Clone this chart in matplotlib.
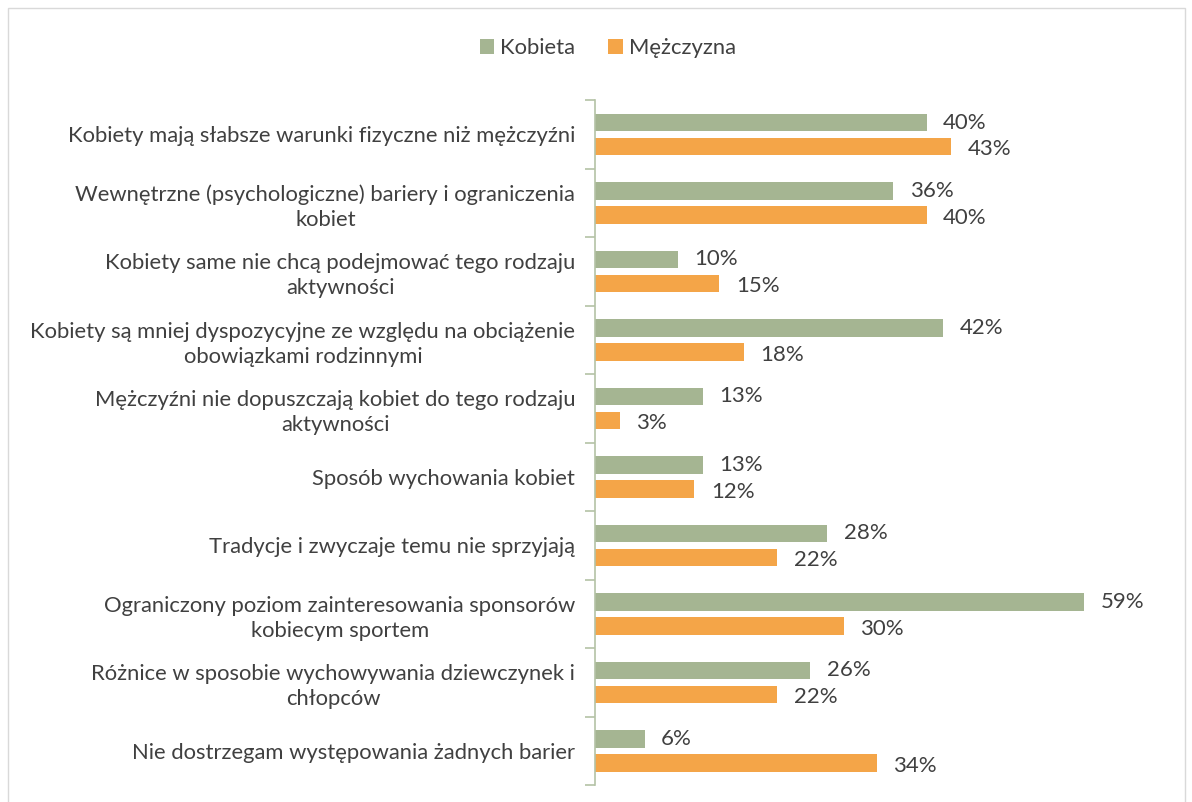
import numpy as np
import matplotlib.pyplot as plt
from matplotlib.patches import Rectangle

categories = [
    "Kobiety mają słabsze warunki fizyczne niż mężczyźni",
    "Wewnętrzne (psychologiczne) bariery i ograniczenia\nkobiet",
    "Kobiety same nie chcą podejmować tego rodzaju\naktywności",
    "Kobiety są mniej dyspozycyjne ze względu na obciążenie\nobowiązkami rodzinnymi",
    "Mężczyźni nie dopuszczają kobiet do tego rodzaju\naktywności",
    "Sposób wychowania kobiet",
    "Tradycje i zwyczaje temu nie sprzyjają",
    "Ograniczony poziom zainteresowania sponsorów\nkobiecym sportem",
    "Różnice w sposobie wychowywania dziewczynek i\nchłopców",
    "Nie dostrzegam występowania żadnych barier",
]
kobieta = [40, 36, 10, 42, 13, 13, 28, 59, 26, 6]
mezczyzna = [43, 40, 15, 18, 3, 12, 22, 30, 22, 34]

green = "#A5B592"
orange = "#F4A548"
text_col = "#404040"
axis_col = "#B4C2A6"

plt.rcParams['font.family'] = ['Lato', 'DejaVu Sans']

fig = plt.figure(figsize=(11.92, 8.02), dpi=100)
ax = fig.add_axes([0.499, 0.021, 0.487, 0.854])

y = np.arange(len(categories))
off = 0.175
h = 0.26
ax.barh(y - off, kobieta, height=h, color=green, label="Kobieta")
ax.barh(y + off, mezczyzna, height=h, color=orange, label="Mężczyzna")

for yi, v in zip(y, kobieta):
    ax.text(v + 2.0, yi - off, f"{v}%", va="center", ha="left", fontsize=16, color=text_col)
for yi, v in zip(y, mezczyzna):
    ax.text(v + 2.0, yi + off + 0.04, f"{v}%", va="center", ha="left", fontsize=16, color=text_col)

ax.set_xlim(0, 70)
ax.set_ylim(len(categories) - 0.5, -0.5)
ax.set_xticks([])

ax.set_yticks(y)
ax.set_yticklabels(categories, fontsize=15.8, color=text_col, multialignment="center",
                   linespacing=1.3)
ax.tick_params(axis="y", which="major", length=0, pad=14)
ax.set_yticks(np.arange(-0.5, len(categories)), minor=True)
ax.tick_params(axis="y", which="minor", length=7, color=axis_col, width=1.2)

for s in ["top", "right", "bottom"]:
    ax.spines[s].set_visible(False)
ax.spines["left"].set_color(axis_col)
ax.spines["left"].set_linewidth(1.2)

leg = fig.legend(loc="center", bbox_to_anchor=(0.51, 0.94), ncol=2, frameon=False,
                 fontsize=15.8, handlelength=0.65, handleheight=0.65, handletextpad=0.3,
                 columnspacing=1.5)
for t in leg.get_texts():
    t.set_color(text_col)

fig.patches.append(Rectangle((8 / 1192, -0.01), 1177 / 1192, 1 - 8 / 802 + 0.01,
                             transform=fig.transFigure, fill=False,
                             edgecolor="#D9D9D9", linewidth=1))

fig.savefig("out.png", dpi=100)
